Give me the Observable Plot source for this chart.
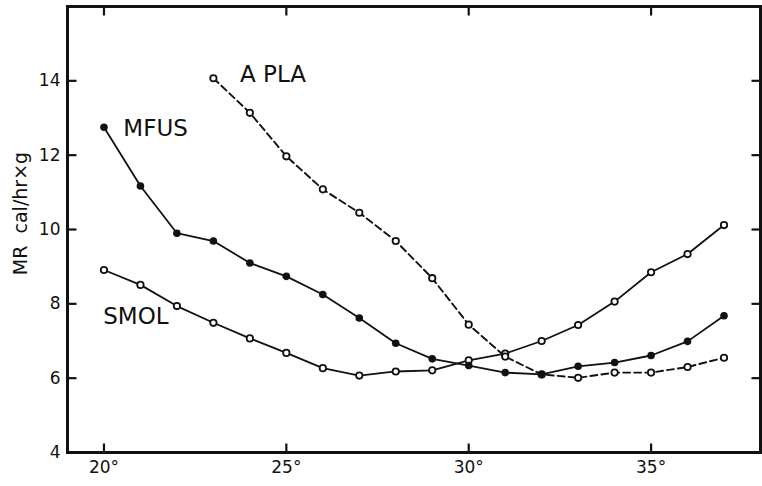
<!DOCTYPE html>
<html><head><meta charset="utf-8">
<script src="https://cdn.jsdelivr.net/npm/d3@7"></script>
<script src="https://cdn.jsdelivr.net/npm/@observablehq/plot@0.6"></script>
<style>body{margin:0;background:#fff;} #chart{width:762px;height:486px;}</style>
</head><body><div id="chart"></div>
<script>
// Temperatures (°C)
const temps = [20,21,22,23,24,25,26,27,28,29,30,31,32,33,34,35,36,37];
// Metabolic rate, cal/hr×g
const mfus = [12.75,11.17,9.90,9.69,9.10,8.74,8.25,7.62,6.94,6.52,6.34,6.15,6.10,6.32,6.42,6.61,6.99,7.68];
const smol = [8.91,8.51,7.94,7.49,7.07,6.68,6.27,6.07,6.18,6.21,6.48,6.66,7.00,7.43,8.06,8.85,9.34,10.12];
const aplaTemps = [23,24,25,26,27,28,29,30,31,32,33,34,35,36,37];
const apla = [14.07,13.14,11.97,11.08,10.45,9.69,8.69,7.44,6.58,6.10,6.01,6.15,6.15,6.30,6.55];
// Axis ticks
const xTicks = [20,25,30,35];
const yTicks = [4,6,8,10,12,14];
const yRightTicks = [6,8,10,12,14];
// Series labels (anchored in data units)
const labelNames = ["A PLA","MFUS","SMOL"];
const labelTemps = [23.73,20.53,19.98];
const labelMR = [13.98,12.52,7.47];
const yLabel = "MR  cal/hr×g";

const mfusData = temps.map((t,i)=>({t, mr: mfus[i]}));
const smolData = temps.map((t,i)=>({t, mr: smol[i]}));
const aplaData = aplaTemps.map((t,i)=>({t, mr: apla[i]}));
const labels = labelNames.map((name,i)=>({name, t: labelTemps[i], mr: labelMR[i]}));

const W = 762, H = 486, mL = 67, mR = 2, mT = 6, mB = 34, tick = 9;
const xDom = [19, 38], yDom = [4, 16];
const innerW = W - mL - mR, innerH = H - mT - mB;
// tick length converted into data units
const tx = tick * (xDom[1] - xDom[0]) / innerW;
const ty = tick * (yDom[1] - yDom[0]) / innerH;
const tickSegs = [
  ...xTicks.map(v => ({x1: v, x2: v, y1: yDom[0], y2: yDom[0] + ty})),
  ...xTicks.map(v => ({x1: v, x2: v, y1: yDom[1], y2: yDom[1] - ty})),
  ...yTicks.map(v => ({x1: xDom[0], x2: xDom[0] + tx, y1: v, y2: v})),
  ...yRightTicks.map(v => ({x1: xDom[1], x2: xDom[1] - tx, y1: v, y2: v}))
];
const font = "DejaVu Sans, sans-serif";
const plot = Plot.plot({
  width: W, height: H,
  marginLeft: mL, marginRight: mR, marginTop: mT, marginBottom: mB,
  style: {fontFamily: font, fontSize: "17px", background: "#fff", color: "#111"},
  x: {domain: xDom, axis: null},
  y: {domain: yDom, axis: null},
  marks: [
    Plot.frame({stroke: "#111", strokeWidth: 3, fill: "none"}),
    // tick labels
    Plot.axisX({ticks: xTicks, anchor: "bottom", tickSize: 0, tickPadding: 8, tickFormat: d => `${d}°`, label: null, fontSize: 17}),
    Plot.axisY({ticks: yTicks, anchor: "left", tickSize: 0, tickPadding: 7, label: null, fontSize: 17}),
    // inward ticks
    Plot.link(tickSegs, {x1: "x1", y1: "y1", x2: "x2", y2: "y2", stroke: "#111", strokeWidth: 2.2}),
    // lines
    Plot.line(smolData, {x: "t", y: "mr", stroke: "#111", strokeWidth: 1.8}),
    Plot.line(mfusData, {x: "t", y: "mr", stroke: "#111", strokeWidth: 1.8}),
    Plot.line(aplaData, {x: "t", y: "mr", stroke: "#111", strokeWidth: 1.9, strokeDasharray: "7,4"}),
    // points
    Plot.dot(smolData, {x: "t", y: "mr", r: 3.2, fill: "#fff", stroke: "#111", strokeWidth: 1.8}),
    Plot.dot(aplaData, {x: "t", y: "mr", r: 3.2, fill: "#fff", stroke: "#111", strokeWidth: 1.8}),
    Plot.dot(mfusData, {x: "t", y: "mr", r: 3.8, fill: "#111", stroke: "none"}),
    // series labels
    Plot.text(labels, {x: "t", y: "mr", text: "name", textAnchor: "start", lineAnchor: "bottom", fontSize: 23, fill: "#111", ariaLabel: "species"}),
    // y label
    Plot.text([yLabel], {frameAnchor: "left", textAnchor: "middle", dx: -47, dy: -16, rotate: -90, fontSize: 19, fill: "#111"})
  ]
});
d3.select(plot).selectAll('g[aria-label="species"] text').each(function(){
  const s = this.textContent;
  const el = d3.select(this);
  el.text(null);
  el.append("tspan").text(s[0]);
  el.append("tspan").attr("font-size", 16).attr("letter-spacing", 4).text(s.slice(1));
});
document.getElementById("chart").appendChild(plot);
</script>
</body></html>
